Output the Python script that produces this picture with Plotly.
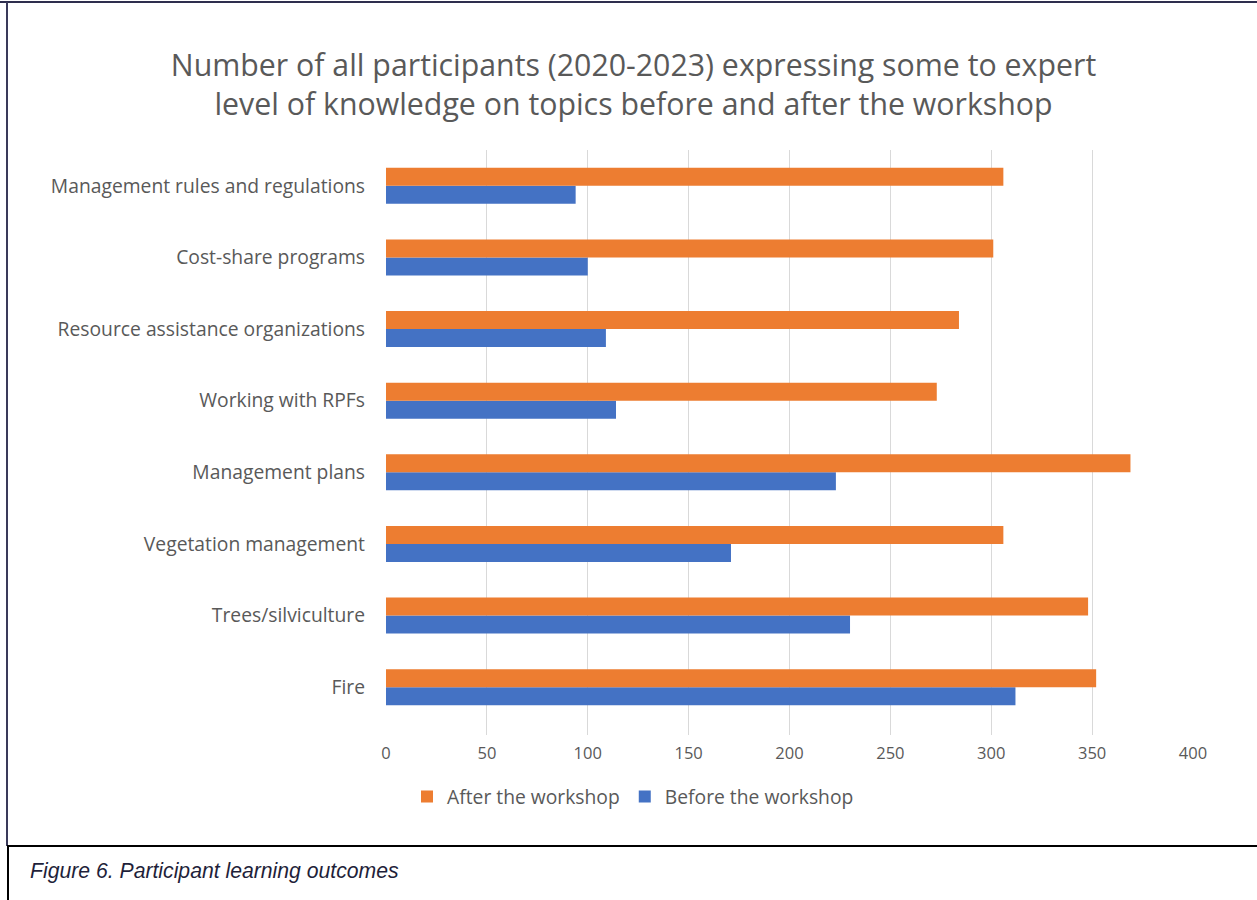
import plotly.graph_objects as go

categories = ["Fire", "Trees/silviculture", "Vegetation management", "Management plans",
              "Working with RPFs", "Resource assistance organizations", "Cost-share programs",
              "Management rules and regulations"]
before = [312, 230, 171, 223, 114, 109, 100, 94]
after = [352, 348, 306, 369, 273, 284, 301, 306]
x_ticks = [0, 50, 100, 150, 200, 250, 300, 350, 400]

W, H = 1257, 900
FONT = "Open Sans"
GREY = "#595959"
PL, PR, PT, PB = 386, 1193, 150, 735
PW, PH = PR - PL, PB - PT

fig = go.Figure()
fig.add_trace(go.Bar(y=categories, x=before, orientation="h", name="Before the workshop",
                     marker=dict(color="#4472C4", line=dict(width=0))))
fig.add_trace(go.Bar(y=categories, x=after, orientation="h", name="After the workshop",
                     marker=dict(color="#ED7D31", line=dict(width=0))))

fig.update_layout(
    width=W, height=H,
    paper_bgcolor="white", plot_bgcolor="white",
    margin=dict(l=PL, r=W - PR, t=PT, b=H - PB, autoexpand=False),
    barmode="group", bargap=0.497, bargroupgap=0,
    font=dict(family=FONT, color=GREY),
    title=dict(text="Number of all participants (2020-2023) expressing some to expert<br>level of knowledge on topics before and after the workshop",
               x=0.504, xanchor="center", y=0.916, yanchor="middle",
               font=dict(family=FONT, size=30.3, color=GREY)),
    xaxis=dict(range=[0, 400], tickvals=x_ticks, showgrid=True, gridcolor="#D9D9D9",
               gridwidth=1, zeroline=False, showline=False, ticks="",
               ticklabelstandoff=6,
               tickfont=dict(family=FONT, size=16.5, color=GREY)),
    yaxis=dict(range=[-0.5 - 12 / 71.6, 7.5], showgrid=False, zeroline=False, showline=False,
               ticks="", ticklabelstandoff=20,
               tickfont=dict(family=FONT, size=19.3, color=GREY)),
    legend=dict(orientation="h", traceorder="reversed", x=(633 - PL) / PW, xanchor="center",
                y=(H - 797) / H, yref="container", yanchor="middle",
                font=dict(family=FONT, size=19.3, color=GREY),
                itemwidth=30),
    showlegend=True,
)

top_y = 1 + (PT - 2) / PH
frame_bottom = -(846 - PB) / PH
# chart frame
fig.add_shape(type="line", xref="paper", yref="paper", x0=-PL / PW, x1=(W - PL) / PW,
              y0=top_y, y1=top_y, line=dict(color="#2E2E4E", width=2))
fig.add_shape(type="line", xref="paper", yref="paper", x0=(7 - PL) / PW, x1=(7 - PL) / PW,
              y0=frame_bottom, y1=top_y, line=dict(color="#3A3A5A", width=2))
# caption box
fig.add_shape(type="line", xref="paper", yref="paper", x0=(7 - PL) / PW, x1=(W - PL) / PW,
              y0=frame_bottom, y1=frame_bottom, line=dict(color="black", width=2))
fig.add_shape(type="line", xref="paper", yref="paper", x0=(8 - PL) / PW, x1=(8 - PL) / PW,
              y0=frame_bottom, y1=-(H - PB) / PH, line=dict(color="black", width=2))

fig.add_annotation(text="<i>Figure 6. Participant learning outcomes</i>", xref="paper", yref="paper",
                   x=(28 - PL) / PW, xanchor="left", y=-(871 - PB) / PH, yanchor="middle",
                   showarrow=False, font=dict(family="Liberation Sans", size=21.2, color="#1F1F3A"))

fig.write_html("out.html")
